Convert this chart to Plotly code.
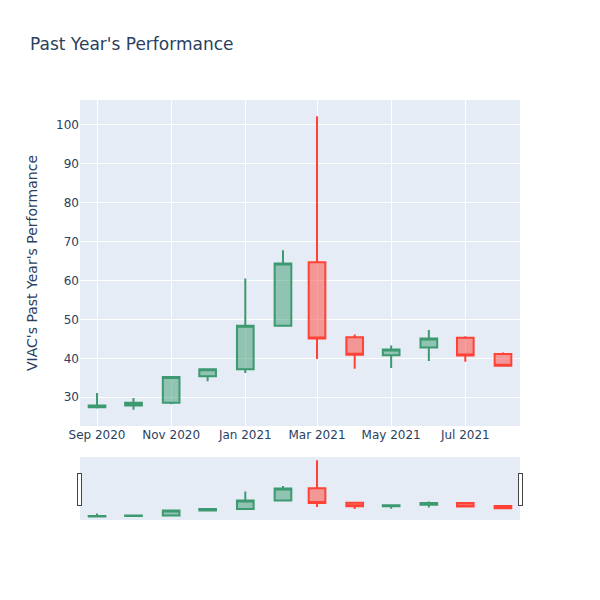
import plotly.graph_objects as go

dates = ["2020-09-01", "2020-10-01", "2020-11-01", "2020-12-01", "2021-01-01", "2021-02-01",
         "2021-03-01", "2021-04-01", "2021-05-01", "2021-06-01", "2021-07-01", "2021-08-01"]
open_ = [27.4, 27.9, 28.6, 35.4, 37.2, 48.4, 64.7, 45.4, 40.8, 42.8, 45.3, 41.1]
high = [31.1, 29.8, 35.2, 37.3, 60.5, 67.8, 102.2, 46.1, 43.3, 47.3, 45.7, 41.5]
low = [27.1, 26.8, 28.2, 34.1, 36.2, 48.3, 39.8, 37.3, 37.5, 39.3, 39.1, 38.0]
close = [27.9, 28.6, 35.2, 37.2, 48.4, 64.4, 45.1, 40.9, 42.3, 45.1, 40.7, 38.1]

fig = go.Figure(go.Candlestick(x=dates, open=open_, high=high, low=low, close=close))
fig.update_layout(
    width=600, height=600,
    font=dict(family="DejaVu Sans"),
    title="Past Year's Performance",
    yaxis_title="VIAC's Past Year's Performance",
)
fig.write_html("out.html")
